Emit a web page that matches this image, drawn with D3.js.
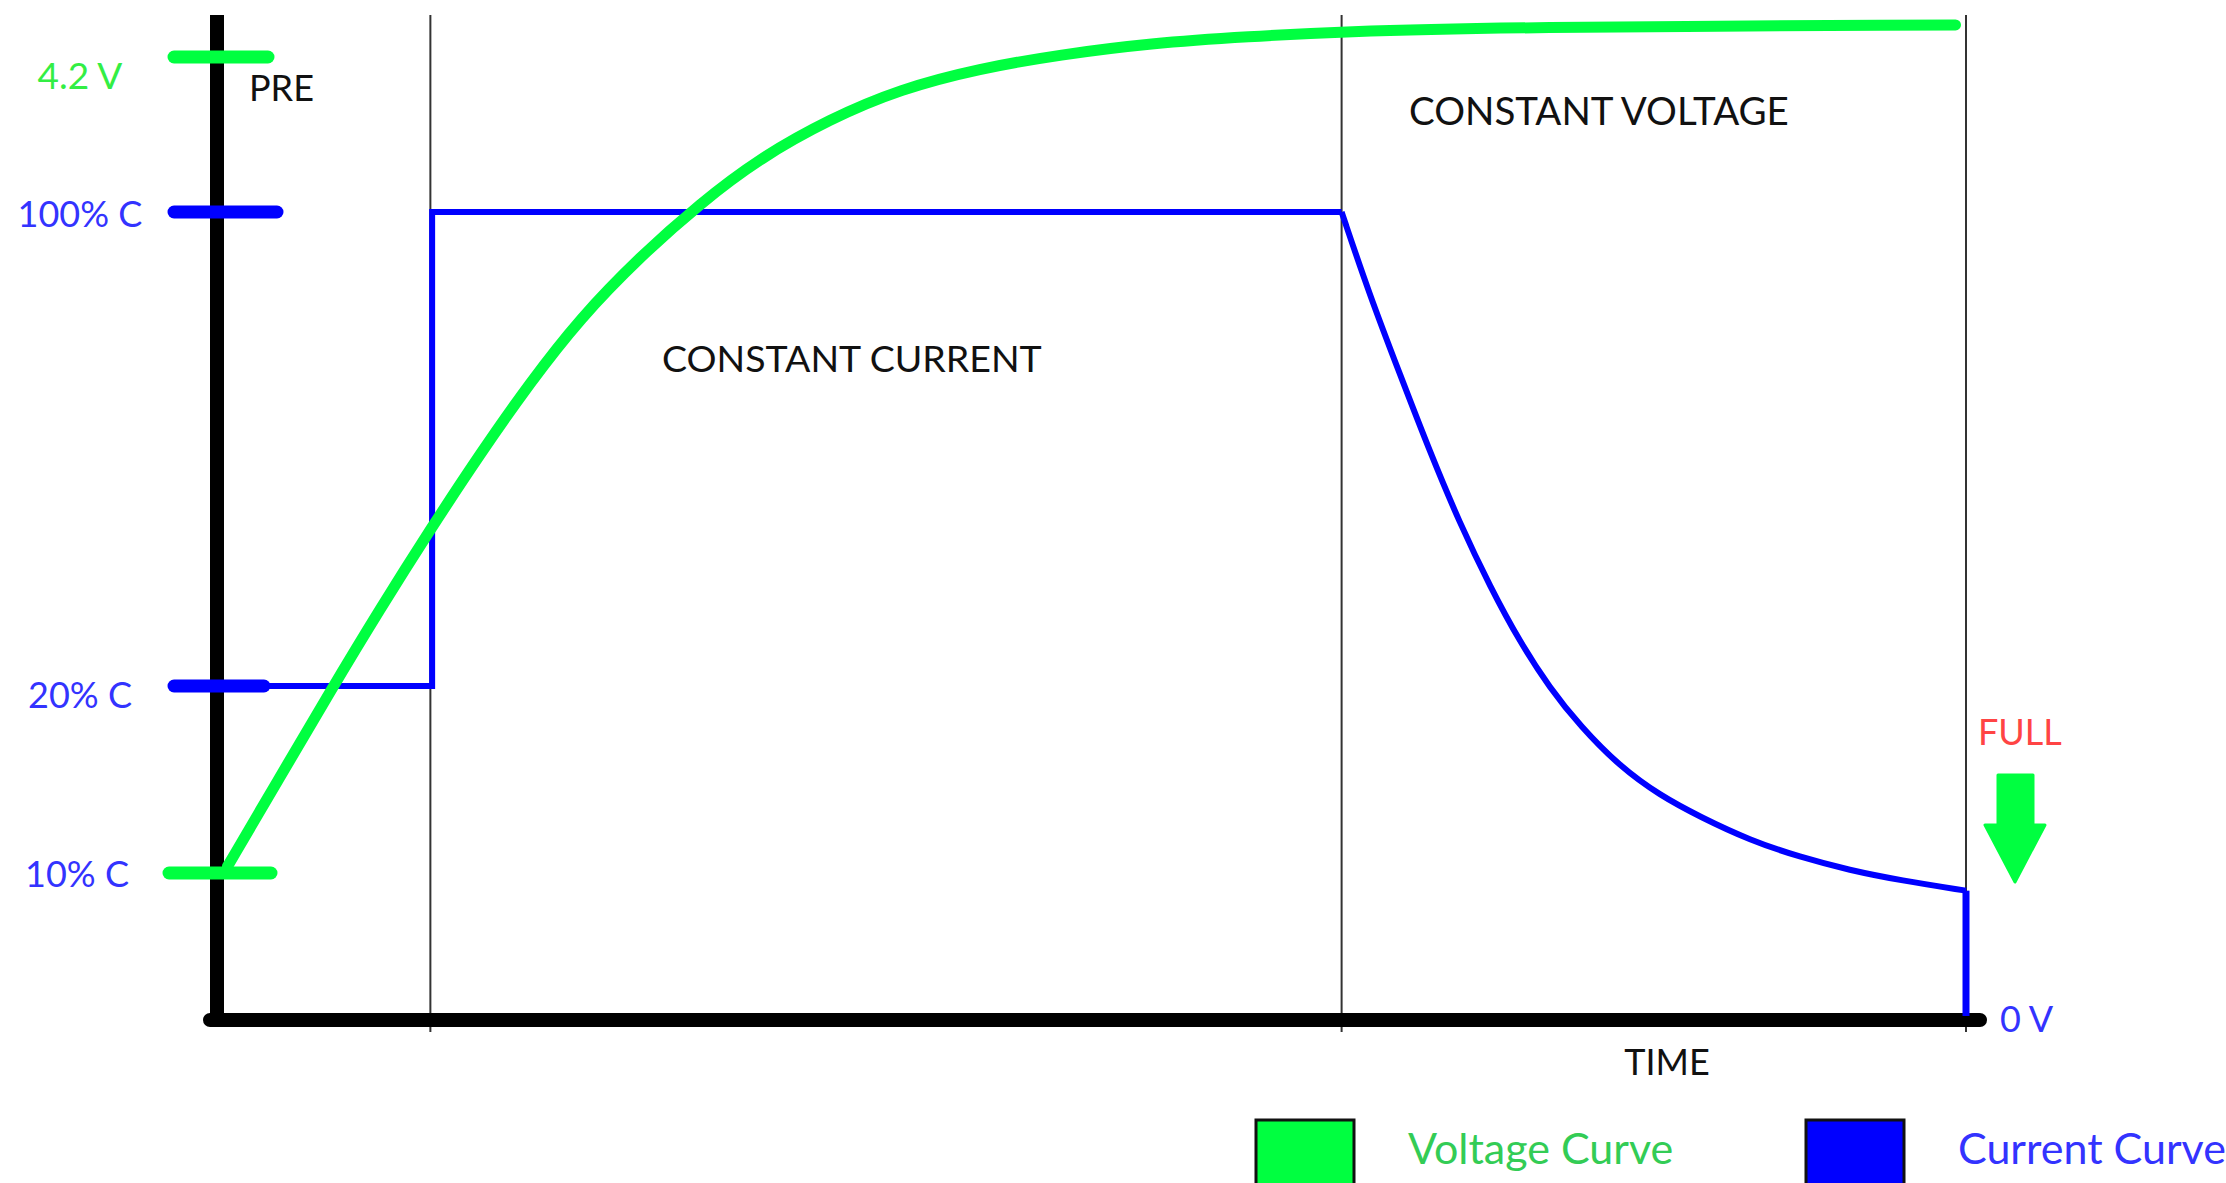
<!DOCTYPE html>
<html>
<head>
<meta charset="utf-8">
<script src="https://cdn.jsdelivr.net/npm/d3@7"></script>
<style>
  body { margin: 0; background: #fff; }
  svg { display: block; }
  text { font-family: Lato, "Open Sans", sans-serif; font-size: 36px; }
</style>
</head>
<body>
<div id="charge_chart"></div>
<script>
// time runs 0..100 across the plot, current in % of C, voltage in V
var phaseNames = ["PRE", "CONSTANT CURRENT", "CONSTANT VOLTAGE"]
var phaseEnds = [12.2, 64.3, 100]

var currentTicks = [100, 20, 10]
var currentTickLabels = ["100% C", "20% C", "10% C"]
var voltageTicks = [4.2]
var voltageTickLabels = ["4.2 V"]

var currentStepT = [0, 12.3, 12.3, 64.3]
var currentStepPct = [20, 20, 100, 100]

var currentDecayT = [64.3, 65.9, 67.65, 69.35, 71.05, 72.8, 74.5, 76.2, 77.95, 80.2, 82.5, 84.8, 87.65, 90.5, 93.35, 96.25, 100]
var currentDecayPct = [100, 86.0, 72.5, 59.5, 47.5, 36.7, 27.4, 19.9, 17.85, 15.7, 14.15, 13.0, 11.75, 10.85, 10.15, 9.5, 8.8]

var voltageT = [0.6, 3.6, 6.45, 9.3, 12.2, 15.05, 17.9, 20.75, 24.2, 27.6, 31.05, 35.05, 39.05, 43.6, 48.2, 53.35, 59.05, 64.3, 73.35, 99.4]
var voltageV = [0.67, 1.06, 1.43, 1.79, 2.14, 2.47, 2.78, 3.06, 3.33, 3.56, 3.76, 3.93, 4.06, 4.15, 4.21, 4.26, 4.29, 4.31, 4.33, 4.34]

var legendNames = ["Voltage Curve", "Current Curve"]

var green = "#00ff40"
var blue = "#0000ff"

var width = 2226
var height = 1183
var margin = {top: 15, left: 217, right: 260, bottom: 163}

var svg = d3.select("#charge_chart").append("svg")
    .attr("width", width)
    .attr("height", height)

var x = d3.scaleLinear()
    .domain([0, 100])
    .range([margin.left, width - margin.right])

var axisY = height - margin.bottom

// hand drawn axis: the current ticks are not evenly spaced
var yCurrent = d3.scaleLinear()
    .domain([0, 10, 20, 100])
    .range([axisY, 873, 686, 212])

var yVoltage = d3.scaleLinear()
    .domain([0, 4.2])
    .range([axisY, 57])

// phase separators
svg.append("g").selectAll("line")
    .data(phaseEnds)
    .enter().append("line")
    .attr("x1", function(d){ return x(d) })
    .attr("x2", function(d){ return x(d) })
    .attr("y1", margin.top)
    .attr("y2", axisY + 12)
    .attr("stroke", "#333")
    .attr("stroke-width", 2)

// axes
svg.append("line")
    .attr("x1", x(0))
    .attr("x2", x(0))
    .attr("y1", margin.top)
    .attr("y2", axisY + 7)
    .attr("stroke", "#000")
    .attr("stroke-width", 14)

svg.append("line")
    .attr("x1", x(0) - 7)
    .attr("x2", x(100) + 14)
    .attr("y1", axisY)
    .attr("y2", axisY)
    .attr("stroke", "#000")
    .attr("stroke-width", 14)
    .attr("stroke-linecap", "round")
svg.append("rect")
    .attr("x", x(0) - 7)
    .attr("y", axisY - 7)
    .attr("width", 14)
    .attr("height", 14)

// tick marks
var tickColor = {"100% C": blue, "20% C": blue, "10% C": green, "4.2 V": green}
var tickSpan = {"100% C": [-43, 60], "20% C": [-43, 47], "10% C": [-48, 54], "4.2 V": [-43, 51]}

var ticks = currentTicks.map(function(d, i){ return {y: yCurrent(d), label: currentTickLabels[i], color: blue} })
    .concat(voltageTicks.map(function(d, i){ return {y: yVoltage(d), label: voltageTickLabels[i], color: green} }))

svg.append("g").selectAll("line")
    .data(ticks)
    .enter().append("line")
    .attr("x1", function(d){ return x(0) + tickSpan[d.label][0] })
    .attr("x2", function(d){ return x(0) + tickSpan[d.label][1] })
    .attr("y1", function(d){ return d.y })
    .attr("y2", function(d){ return d.y })
    .attr("stroke", function(d){ return tickColor[d.label] })
    .attr("stroke-width", 13)
    .attr("stroke-linecap", "round")

var labelShift = {"100% C": [80, 15], "20% C": [80, 22], "10% C": [77, 14], "4.2 V": [80, 32]}
svg.append("g").selectAll("text")
    .data(ticks)
    .enter().append("text")
    .attr("x", function(d){ return labelShift[d.label][0] })
    .attr("y", function(d){ return d.y + labelShift[d.label][1] })
    .attr("text-anchor", "middle")
    .attr("fill", function(d){ return d.color == green ? "#33ee44" : "#3333ff" })
    .style("font-size", function(d){ return d.color == green ? "37px" : null })
    .text(function(d){ return d.label })

// curves
var line = d3.line()
    .x(function(d){ return x(d[0]) })
    .y(function(d){ return d[1] })

svg.append("path")
    .datum(currentStepT.map(function(t, i){ return [t, yCurrent(currentStepPct[i])] }))
    .attr("d", line)
    .attr("fill", "none")
    .attr("stroke", blue)
    .attr("stroke-width", 6)
    .attr("stroke-linejoin", "miter")

var decay = currentDecayT.map(function(t, i){ return [t, yCurrent(currentDecayPct[i])] })
svg.append("path")
    .datum(decay)
    .attr("d", line.curve(d3.curveBasis))
    .attr("fill", "none")
    .attr("stroke", blue)
    .attr("stroke-width", 6)

svg.append("path")
    .datum([decay[decay.length - 1], [100, axisY - 4]])
    .attr("d", line.curve(d3.curveLinear))
    .attr("fill", "none")
    .attr("stroke", blue)
    .attr("stroke-width", 7)

svg.append("path")
    .datum(voltageT.map(function(t, i){ return [t, yVoltage(voltageV[i])] }))
    .attr("d", line.curve(d3.curveBasis))
    .attr("fill", "none")
    .attr("stroke", green)
    .attr("stroke-width", 11)
    .attr("stroke-linecap", "round")

// phase names
var phasePos = [[249, 101], [662, 372], [1409, 125]]
svg.append("g").selectAll("text")
    .data(phaseNames)
    .enter().append("text")
    .attr("x", function(d, i){ return phasePos[i][0] })
    .attr("y", function(d, i){ return phasePos[i][1] })
    .attr("fill", "#111")
    .style("font-size", function(d, i){ return i == 0 ? "36px" : i == 1 ? "37.5px" : "38.5px" })
    .text(function(d){ return d })

svg.append("text")
    .attr("x", 1667)
    .attr("y", 1075)
    .attr("text-anchor", "middle")
    .attr("fill", "#111")
    .text("TIME")

svg.append("text")
    .attr("x", x(100) + 34)
    .attr("y", axisY + 12)
    .attr("fill", "#3333ff")
    .text("0 V")

// full marker
svg.append("text")
    .attr("x", x(100) + 12)
    .attr("y", 745)
    .attr("fill", "#ff4444")
    .text("FULL")

var ax = x(100) + 49
svg.append("path")
    .attr("d", "M" + (ax - 17) + ",775 h35 v50 h12 L" + ax + ",882 L" + (ax - 30) + ",825 h13 Z")
    .attr("fill", green)
    .attr("stroke", green)
    .attr("stroke-width", 3)
    .attr("stroke-linejoin", "round")

// legend
var legend = svg.append("g").selectAll("g")
    .data(legendNames)
    .enter().append("g")
    .attr("transform", function(d, i){ return "translate(" + (1256 + i * 550) + ",1120)" })

legend.append("rect")
    .attr("width", 98)
    .attr("height", 98)
    .attr("fill", function(d, i){ return i == 0 ? green : blue })
    .attr("stroke", "#111")
    .attr("stroke-width", 3)

legend.append("text")
    .attr("x", 152)
    .attr("y", 44)
    .attr("fill", function(d, i){ return i == 0 ? "#33cc55" : "#3333ff" })
    .style("font-size", "43px")
    .text(function(d){ return d })
</script>
</body>
</html>
